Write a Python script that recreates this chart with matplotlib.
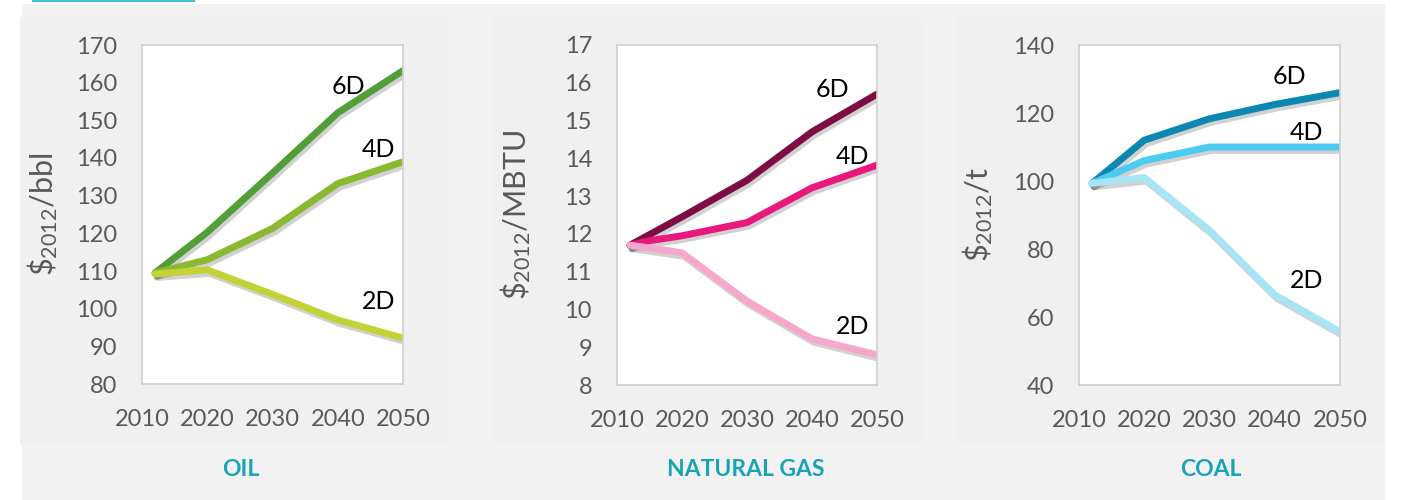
import matplotlib
matplotlib.use('Agg')
import matplotlib.pyplot as plt
import matplotlib.patheffects as pe
from matplotlib.patches import Rectangle

plt.rcParams['font.family'] = ['Lato', 'DejaVu Sans']
plt.rcParams['mathtext.fontset'] = 'custom'
plt.rcParams['mathtext.rm'] = 'Lato'
plt.rcParams['mathtext.default'] = 'regular'

# data
years = [2012, 2020, 2030, 2040, 2050]

oil_6d = [109.5, 120.3, 136, 152, 163.2]
oil_4d = [109.5, 113, 121.3, 133.2, 139]
oil_2d = [109.2, 110.3, 103.8, 97, 92.2]

gas_4d_years = [2012, 2015, 2020, 2030, 2040, 2050]
gas_6d = [11.7, 12.45, 13.42, 14.7, 15.7]
gas_4d = [11.7, 11.82, 11.95, 12.3, 13.22, 13.82]
gas_2d = [11.7, 11.5, 10.22, 9.22, 8.8]

coal_6d = [99.3, 112, 118.3, 122.5, 126]
coal_4d = [99.3, 106, 110, 110, 110]
coal_2d = [99.3, 101, 85.5, 66.5, 55.7]

xticks = [2010, 2020, 2030, 2040, 2050]
panel_titles = ['OIL', 'NATURAL GAS', 'COAL']
ylabels = [r'\$$_{2012}$/bbl', r'\$$_{2012}$/MBTU', r'\$$_{2012}$/t']

W, H = 1401, 500
fig = plt.figure(figsize=(W / 100, H / 100), dpi=100, facecolor='white')


def px_rect(x0, y0, x1, y1, color):
    fig.add_artist(Rectangle((x0 / W, 1 - y1 / H), (x1 - x0) / W, (y1 - y0) / H,
                             transform=fig.transFigure, facecolor=color,
                             edgecolor='none', zorder=-10))


def px_axes(x0, y0, x1, y1):
    return fig.add_axes([x0 / W, 1 - y1 / H, (x1 - x0) / W, (y1 - y0) / H])


# backgrounds
px_rect(22, 4, 1385, 500, '#f2f2f2')
px_rect(20, 17, 448, 445, '#f0f0f0')
px_rect(493, 17, 922, 443, '#f0f0f0')
px_rect(955, 17, 1385, 445, '#f0f0f0')
px_rect(32, 0, 195, 2, '#3fc3d1')

tick_col = '#595959'
shadow = [pe.SimpleLineShadow(offset=(1.5, -2.5), shadow_color='black', alpha=0.18),
          pe.Normal()]

panels = [
    dict(box=(142, 45, 403, 384), ylim=(80, 170), yticks=range(80, 171, 10),
         series=[(years, oil_6d, '#529e38'), (years, oil_4d, '#8bb831'),
                 (years, oil_2d, '#c3d237')],
         labels=[(2041.6, 158.9, '6D'), (2046.3, 142.2, '4D'), (2046.3, 101.8, '2D')],
         title_x=241, ylab_x=60),
    dict(box=(617, 45, 877, 385), ylim=(8, 17), yticks=range(8, 18),
         series=[(years, gas_6d, '#7d0e44'), (gas_4d_years, gas_4d, '#e8187c'),
                 (years, gas_2d, '#f5a8cc')],
         labels=[(2043.1, 15.81, '6D'), (2046.2, 14.04, '4D'), (2046.2, 9.54, '2D')],
         title_x=746, ylab_x=533),
    dict(box=(1079, 45, 1340, 385), ylim=(40, 140), yticks=range(40, 141, 20),
         series=[(years, coal_6d, '#0b88b0'), (years, coal_4d, '#4bcbf2'),
                 (years, coal_2d, '#a6e5f6')],
         labels=[(2042.2, 130.6, '6D'), (2044.9, 114.4, '4D'), (2044.9, 70.6, '2D')],
         title_x=1211, ylab_x=995),
]

for p, title, ylab in zip(panels, panel_titles, ylabels):
    ax = px_axes(*p['box'])
    ax.set_facecolor('white')
    for xs, ys, c in p['series']:
        ax.plot(xs, ys, color=c, lw=5, solid_capstyle='round',
                solid_joinstyle='round', path_effects=shadow)
    for x, y, s in p['labels']:
        ax.text(x, y, s, ha='center', va='center', fontsize=18, color='black')
    ax.set_xlim(2010, 2050)
    ax.set_ylim(*p['ylim'])
    ax.set_xticks(xticks)
    ax.set_yticks(list(p['yticks']))
    ax.tick_params(length=0, labelsize=17, colors=tick_col)
    ax.tick_params(axis='x', pad=18)
    ax.tick_params(axis='y', pad=18)
    for sp in ax.spines.values():
        sp.set_color('#d0d0d0')
        sp.set_linewidth(1.2)
    ax.set_ylabel(ylab, fontsize=22, color=tick_col)
    ax.yaxis.set_label_coords((p['ylab_x'] - p['box'][0]) / (p['box'][2] - p['box'][0]), 0.5)
    fig.text(p['title_x'] / W, 1 - 469 / H, title, ha='center', va='center',
             fontsize=16.5, fontweight='bold', color='#18a3b6')

fig.savefig('out.png', dpi=100, facecolor=fig.get_facecolor())
